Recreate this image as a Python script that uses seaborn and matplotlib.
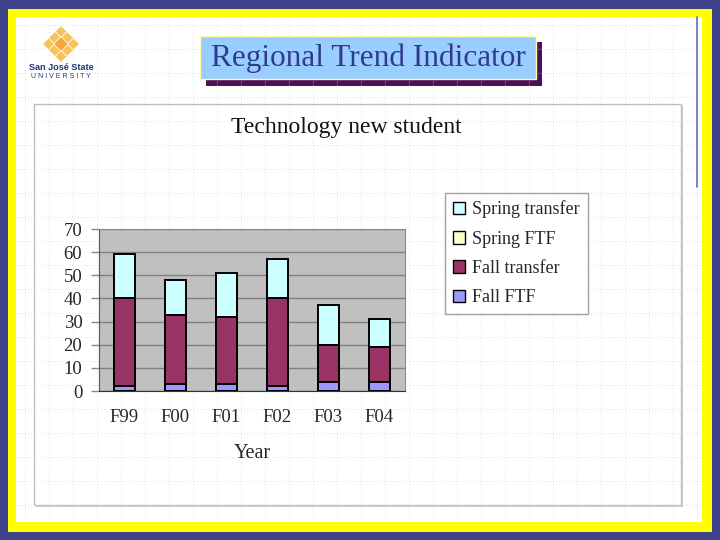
import matplotlib
matplotlib.use("Agg")
import matplotlib.pyplot as plt
import matplotlib.patches as mpatches
import numpy as np
import pandas as pd
import seaborn as sns

# chart data
years = ["F99", "F00", "F01", "F02", "F03", "F04"]
fall_ftf = [2, 3, 3, 2, 4, 4]
fall_transfer = [38, 30, 29, 38, 16, 15]
spring_ftf = [0, 0, 0, 0, 0, 0]
spring_transfer = [19, 15, 19, 17, 17, 12]

series_names = ["Spring transfer", "Spring FTF", "Fall transfer", "Fall FTF"]
series_colors = ["#CCFFFF", "#FFFFCC", "#993366", "#9999FF"]

df = pd.DataFrame({
    "Year": years,
    "Fall FTF": fall_ftf,
    "Fall transfer": fall_transfer,
    "Spring FTF": spring_ftf,
    "Spring transfer": spring_transfer,
})
# cumulative tops, bottom series first
df["c_fall_ftf"] = df["Fall FTF"]
df["c_fall_transfer"] = df["c_fall_ftf"] + df["Fall transfer"]
df["c_spring_ftf"] = df["c_fall_transfer"] + df["Spring FTF"]
df["c_spring_transfer"] = df["c_spring_ftf"] + df["Spring transfer"]

sns.set_style("white")
plt.rcParams["font.family"] = ["Liberation Serif", "DejaVu Serif"]

W, H = 720, 540
fig = plt.figure(figsize=(7.2, 5.4), dpi=100)
fig.patch.set_facecolor("#41428C")

# slide decoration in pixel coordinates
bg = fig.add_axes([0, 0, 1, 1])
bg.set_xlim(0, W)
bg.set_ylim(H, 0)
bg.axis("off")

bg.add_patch(mpatches.Rectangle((8, 9), 704, 523, facecolor="#FFFF00", edgecolor="none"))
bg.add_patch(mpatches.Rectangle((16, 17), 686, 505, facecolor="white", edgecolor="none"))

# graph-paper grid
for gx in np.arange(24.7, 702, 24):
    bg.plot([gx, gx], [17, 522], color="#D6D6D6", lw=0.6, ls=(0, (1, 2.5)))
for gy in np.arange(24.7, 522, 24):
    bg.plot([16, 702], [gy, gy], color="#D6D6D6", lw=0.6, ls=(0, (1, 2.5)))
bg.add_patch(mpatches.Rectangle((16, 17), 86, 80, facecolor="white", edgecolor="none"))

# thin blue line at the right
bg.plot([697, 697], [17, 187], color="#6E7DB0", lw=1.3)

# logo
cx, cy = 61, 44
for dx, dy in [(0, -12), (-12, 0), (12, 0), (0, 12), (-6, -6), (6, -6), (-6, 6), (6, 6)]:
    bg.add_patch(mpatches.RegularPolygon((cx + dx, cy + dy), 4, radius=6.5,
                                         facecolor="#F7C25A", edgecolor="white", lw=0.6))
bg.add_patch(mpatches.RegularPolygon((cx, cy), 4, radius=7.5, facecolor="#F2A83A",
                                     edgecolor="white", lw=0.6))
bg.text(61, 68, "San José State", ha="center", va="center", fontsize=6.6,
        fontweight="bold", color="#1F3A7A", family="Liberation Sans")
bg.text(61, 77, "U N I V E R S I T Y", ha="center", va="center", fontsize=5,
        color="#1F3A7A", family="Liberation Sans")

# title box with shadow
bg.add_patch(mpatches.Rectangle((206, 42), 336, 44, facecolor="#4E0F5A", edgecolor="none"))
bg.add_patch(mpatches.Rectangle((200, 36), 336, 43, facecolor="#99CCFF",
                                edgecolor="#FFFFAA", lw=1))
bg.text(368, 58, "Regional Trend Indicator", ha="center", va="center",
        fontsize=22.5, color="#2E3A8F")

# chart box
bg.add_patch(mpatches.Rectangle((36, 106), 647, 401, facecolor="#D0D0D0", edgecolor="none"))
bg.add_patch(mpatches.Rectangle((34, 104), 647, 401, facecolor="white",
                                edgecolor="#BDBDBD", lw=1))
bg.text(346, 128, "Technology new student", ha="center", va="center", fontsize=17,
        color="#111111")

# chart axes
ax = fig.add_axes([99 / W, 1 - 391 / H, 306 / W, 162 / H])
ax.set_facecolor("#C0C0C0")

layers = [
    ("c_spring_transfer", series_colors[0]),
    ("c_spring_ftf", series_colors[1]),
    ("c_fall_transfer", series_colors[2]),
    ("c_fall_ftf", series_colors[3]),
]
for col, color in layers:
    sns.barplot(data=df, x="Year", y=col, color=color, saturation=1, width=0.42,
                edgecolor="black", linewidth=1.4, errorbar=None, ax=ax, zorder=3)

ax.set_ylim(0, 70)
ax.set_xlim(-0.5, 5.5)
ax.set_yticks(range(0, 71, 10))
ax.yaxis.grid(True, color="#7F7F7F", lw=1)
ax.set_axisbelow(True)
ax.set_xticks(np.arange(-0.5, 6, 1), minor=True)
ax.tick_params(axis="x", which="major", length=0, pad=13, labelsize=13.5)
ax.tick_params(axis="x", which="minor", length=5, color="#888888", width=1)
ax.tick_params(axis="y", which="major", length=6, color="#888888", width=1, pad=6,
               labelsize=13.5, left=True)
for name in ["top", "right"]:
    ax.spines[name].set_color("#8A8A8A")
ax.spines["left"].set_color("#555555")
ax.spines["bottom"].set_color("#333333")
ax.set_ylabel("")
ax.set_xlabel("Year", fontsize=14.5, labelpad=13)

handles = [mpatches.Patch(facecolor=c, edgecolor="black", lw=1) for c in series_colors]
fig.legend(handles, series_names, loc="upper left",
           bbox_to_anchor=(445 / W, 1 - 193 / H), fontsize=13, frameon=True,
           fancybox=False, edgecolor="#A0A0A0", framealpha=1, handlelength=0.7,
           handleheight=0.7, handletextpad=0.4, labelspacing=0.68, borderpad=0.42,
           borderaxespad=0)

fig.savefig("out.png", dpi=100, facecolor=fig.get_facecolor())
